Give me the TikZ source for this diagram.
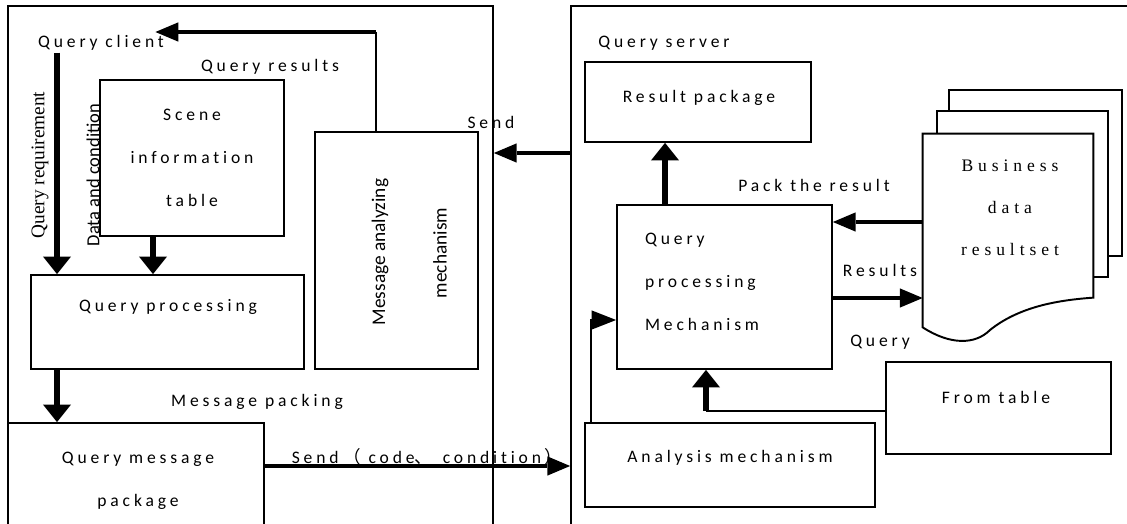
\documentclass[tikz,border=0pt]{standalone}
\usepackage{fontspec}
\setmainfont{Liberation Serif}
\newfontfamily\lblfont[LetterSpace=22, Ligatures=NoCommon]{Carlito}
\newfontfamily\plainsans{Carlito}
\newfontfamily\serifspaced[LetterSpace=28]{Liberation Serif}
\newfontfamily\cjk[LetterSpace=22]{Noto Sans CJK SC}
\usetikzlibrary{arrows.meta, positioning, fit}

\begin{document}
\begin{tikzpicture}[
    x=0.02cm, y=-0.02cm,
    box/.style={draw, line width=1pt, inner sep=0pt},
    lbl/.style={font=\lblfont\fontsize{10}{12}\selectfont, inner sep=1pt},
    lines/.style={align=center, font=\lblfont\fontsize{10}{24.5}\selectfont, inner sep=1pt},
    vlbl/.style={rotate=90, font=\plainsans\fontsize{10.5}{12}\selectfont, inner sep=1pt},
    link/.style={line width=1.1pt},
    varrow/.style={line width=3.3pt, -{Triangle[length=10pt, width=16pt, line width=0pt]}},
    harrow/.style={line width=2.6pt, -{Triangle[length=13pt, width=11pt, line width=0pt]}}
  ]
  \useasboundingbox (0,0) rectangle (1127,524);

  % --- frames ---
  \node[box, fit={(8,6) (493,560)}] (clientbox) {};
  \node[box, fit={(571,6) (1160,560)}] (serverbox) {};

  % --- query client side ---
  \node[box, fit={(100,80) (284,236)}] (scene) {};
  \node[box, fit={(31,275) (304,369)}] (qproc) {};
  \node[box, fit={(315,132) (478,369)}] (msg) {};
  \node[box, fit={(8,423) (264,560)}] (qmsg) {};

  \node[lbl] (clientlbl) at (101,43) {Query client};
  \node[lbl] (reslbl) at (270,67) {Query results};
  \node[rotate=90, font=\fontsize{11}{13}\selectfont, inner sep=1pt] (reqlbl) at (40,165) {Query requirement};
  \node[vlbl] (datalbl) at (93,175) {Data and condition};
  \node[lines] (scenetxt) at (scene) {Scene\\information\\table};
  \node[lbl] (qproctxt) at (168,307) {Query processing};
  \node[vlbl, font=\plainsans\fontsize{11}{13}\selectfont] (msgtxt1) at (380,252) {Message analyzing};
  \node[vlbl, font=\plainsans\fontsize{11}{13}\selectfont] (msgtxt2) at (440,253) {mechanism};
  \node[lbl] (sendlbl) at (491,122) {Send};
  \node[lbl] (packlbl) at (257,402) {Message packing};
  \node[lines] (qmsgtxt) at (138,481) {Query message\\package};
  \node[lbl] (sendcodelbl) at (427,457) {Send\hspace{3pt}{\cjk （}\hspace{4pt}code{\cjk 、}\hspace{6pt}condition\hspace{2pt}{\cjk ）}};

  \coordinate (reqx) at (57,0);
  \coordinate (tabx) at (153,0);
  \coordinate (backturn) at (376,32);
  \coordinate (sendy) at (0,153);
  \coordinate (codey) at (0,466);

  \draw[varrow] (clientlbl.south -| reqx) -- (qproc.north -| reqx);
  \draw[varrow] (scene.south -| tabx) -- (qproc.north -| tabx);
  \draw[varrow] (qproc.south -| reqx) -- (qmsg.north -| reqx);
  \draw[link] (msg.north -| backturn) -- (backturn);
  \draw[harrow, shorten >=-6pt] (backturn) -- (backturn -| clientlbl.east);
  \draw[harrow] (serverbox.west |- sendy) -- (clientbox.east |- sendy);
  \draw[harrow, line width=2.1pt] (qmsg.east |- codey) -- (serverbox.west |- codey);

  % --- query server side ---
  \node[box, fit={(585,62) (811,142)}] (rpack) {};
  \node[box, fit={(617,205) (832,369)}] (mech) {};
  \node[box, fit={(886,362) (1111,454)}] (ftable) {};
  \node[box, fit={(585,423) (875,507)}] (anal) {};
  \node[fit={(923,134) (1093,327)}, inner sep=0pt] (biz) {};

  % stacked result pages
  \draw[link, fill=white] (949,111) |- (1122,90) |- (1108,256);
  \draw[link, fill=white] (937,134) |- (1108,111) |- (1093,277);
  \draw[link, fill=white] (biz.north west) -- (biz.north east) -- ++(0,164)
    .. controls (1060,300) and (1020,306) .. (990,330)
    .. controls (975,345) and (950,345) .. (biz.south west) -- cycle;

  \node[lbl] (serverlbl) at (664,43) {Query server};
  \node[lbl] (rpacktxt) at (699,98) {Result package};
  \node[lbl] (packreslbl) at (814,185) {Pack the result};
  \node[lines, align=left, anchor=west] (mechtxt) at (643,282) {Query\\processing\\Mechanism};
  \node[lbl] (resultslbl) at (880,270) {Results};
  \node[lbl] (querylbl) at (880,342) {Query};
  \node[align=center, font=\serifspaced\fontsize{10}{24}\selectfont, inner sep=1pt] (biztxt) at (1010,208) {Business\\data\\resultset};
  \node[lbl] (ftabletxt) at (996,397) {From table};
  \node[lbl] (analtxt) at (730,458) {Analysis mechanism};

  \coordinate (packx) at (665,0);
  \coordinate (packy) at (0,222);
  \coordinate (resy) at (0,298);
  \coordinate (fromturn) at (706,411);
  \coordinate (anturn) at (591,320);

  \draw[varrow] (mech.north -| packx) -- (rpack.south -| packx);
  \draw[harrow] (biz.west |- packy) -- (mech.east |- packy);
  \draw[harrow] (mech.east |- resy) -- (biz.west |- resy);
  \draw[link] (ftable.west |- fromturn) -- (fromturn);
  \draw[varrow] (fromturn) -- (mech.south -| fromturn);
  \draw[link, -{Triangle[length=14pt, width=11pt, line width=0pt]}] (anal.north -| anturn) |- (mech.west |- anturn);

\end{tikzpicture}
\end{document}
